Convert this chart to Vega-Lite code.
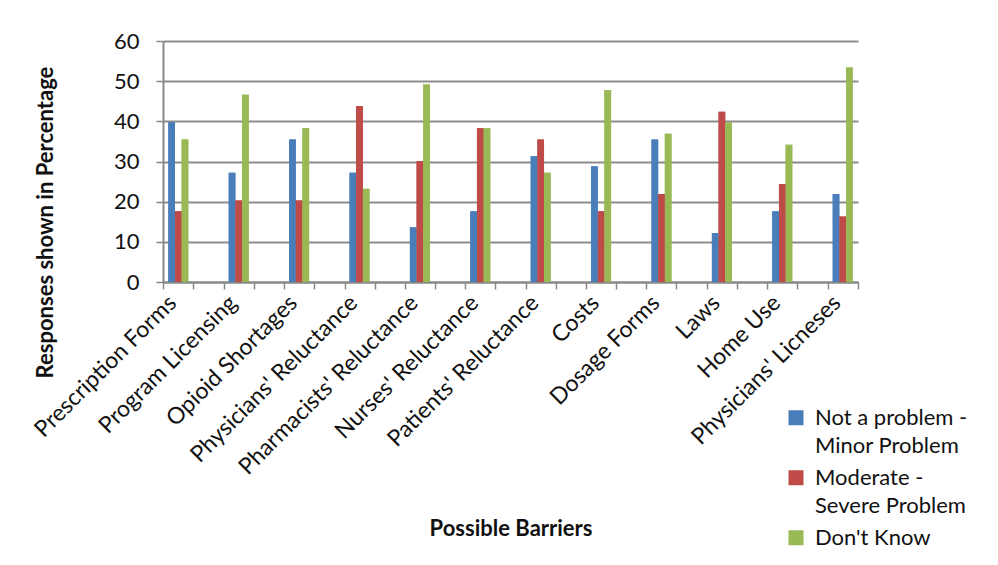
{
  "$schema": "https://vega.github.io/schema/vega-lite/v6.json",
  "autosize": "none",
  "width": 695,
  "height": 241,
  "padding": {"left": 163, "top": 41, "right": 140, "bottom": 283},
  "background": "white",
  "data": {"values": [
    {"barrier": "Prescription Forms", "response": "Not a problem - Minor Problem", "pct": 39.8},
    {"barrier": "Prescription Forms", "response": "Moderate - Severe Problem", "pct": 17.6},
    {"barrier": "Prescription Forms", "response": "Don't Know", "pct": 35.5},
    {"barrier": "Program Licensing", "response": "Not a problem - Minor Problem", "pct": 27.2},
    {"barrier": "Program Licensing", "response": "Moderate - Severe Problem", "pct": 20.3},
    {"barrier": "Program Licensing", "response": "Don't Know", "pct": 46.6},
    {"barrier": "Opioid Shortages", "response": "Not a problem - Minor Problem", "pct": 35.5},
    {"barrier": "Opioid Shortages", "response": "Moderate - Severe Problem", "pct": 20.3},
    {"barrier": "Opioid Shortages", "response": "Don't Know", "pct": 38.3},
    {"barrier": "Physicians' Reluctance", "response": "Not a problem - Minor Problem", "pct": 27.2},
    {"barrier": "Physicians' Reluctance", "response": "Moderate - Severe Problem", "pct": 43.8},
    {"barrier": "Physicians' Reluctance", "response": "Don't Know", "pct": 23.2},
    {"barrier": "Pharmacists' Reluctance", "response": "Not a problem - Minor Problem", "pct": 13.6},
    {"barrier": "Pharmacists' Reluctance", "response": "Moderate - Severe Problem", "pct": 30.1},
    {"barrier": "Pharmacists' Reluctance", "response": "Don't Know", "pct": 49.2},
    {"barrier": "Nurses' Reluctance", "response": "Not a problem - Minor Problem", "pct": 17.6},
    {"barrier": "Nurses' Reluctance", "response": "Moderate - Severe Problem", "pct": 38.3},
    {"barrier": "Nurses' Reluctance", "response": "Don't Know", "pct": 38.3},
    {"barrier": "Patients' Reluctance", "response": "Not a problem - Minor Problem", "pct": 31.3},
    {"barrier": "Patients' Reluctance", "response": "Moderate - Severe Problem", "pct": 35.5},
    {"barrier": "Patients' Reluctance", "response": "Don't Know", "pct": 27.2},
    {"barrier": "Costs", "response": "Not a problem - Minor Problem", "pct": 28.8},
    {"barrier": "Costs", "response": "Moderate - Severe Problem", "pct": 17.6},
    {"barrier": "Costs", "response": "Don't Know", "pct": 47.8},
    {"barrier": "Dosage Forms", "response": "Not a problem - Minor Problem", "pct": 35.5},
    {"barrier": "Dosage Forms", "response": "Moderate - Severe Problem", "pct": 21.9},
    {"barrier": "Dosage Forms", "response": "Don't Know", "pct": 36.9},
    {"barrier": "Laws", "response": "Not a problem - Minor Problem", "pct": 12.2},
    {"barrier": "Laws", "response": "Moderate - Severe Problem", "pct": 42.4},
    {"barrier": "Laws", "response": "Don't Know", "pct": 39.7},
    {"barrier": "Home Use", "response": "Not a problem - Minor Problem", "pct": 17.6},
    {"barrier": "Home Use", "response": "Moderate - Severe Problem", "pct": 24.4},
    {"barrier": "Home Use", "response": "Don't Know", "pct": 34.2},
    {"barrier": "Physicians' Licneses", "response": "Not a problem - Minor Problem", "pct": 21.9},
    {"barrier": "Physicians' Licneses", "response": "Moderate - Severe Problem", "pct": 16.3},
    {"barrier": "Physicians' Licneses", "response": "Don't Know", "pct": 53.4}
  ]},
  "encoding": {
    "x": {"field": "barrier", "type": "nominal", "sort": null,
      "scale": {"paddingInner": 0.669, "paddingOuter": 0.088}},
    "xOffset": {"field": "response", "type": "nominal", "sort": ["Not a problem - Minor Problem", "Moderate - Severe Problem", "Don't Know"], "scale": {"paddingInner": 0}},
    "y": {"field": "pct", "type": "quantitative", "scale": {"domain": [0, 60], "nice": false}},
    "color": {
      "field": "response", "type": "nominal",
      "scale": {"domain": ["Not a problem - Minor Problem", "Moderate - Severe Problem", "Don't Know"], "range": ["#4a7ebb", "#be4b48", "#98b954"]},
      "legend": {
        "title": null, "orient": "none", "legendX": 622, "legendY": 356,
        "labelFont": "Lato", "labelFontSize": 22, "labelColor": "#111",
        "symbolType": "M-1,0.3H1V2.3H-1Z", "symbolSize": 225, "symbolStrokeWidth": 0,
        "labelLimit": 300, "rowPadding": -3,
        "labelBaseline": "top", "labelOffset": 8,
        "labelExpr": "datum.label == 'Not a problem - Minor Problem' ? ['Not a problem -', 'Minor Problem'] : datum.label == 'Moderate - Severe Problem' ? ['Moderate -', 'Severe Problem'] : datum.label"
      }
    }
  },
  "layer": [
    {
      "mark": {"type": "bar"},
      "encoding": {
        "x": {"field": "barrier", "type": "nominal", "sort": null,
          "axis": {
            "orient": "bottom",
            "title": "Possible Barriers", "titleFont": "Lato", "titleFontSize": 22, "titleFontWeight": "bold", "titleColor": "#111",
            "titleY": 246, "titleBaseline": "middle",
            "labelAngle": -45, "labelAlign": "right", "labelBaseline": "middle", "labelFont": "Lato", "labelFontSize": 23, "labelColor": "#111",
            "labelPadding": 10, "labelOffset": 9, "labelLimit": 400,
            "tickOffset": -15, "tickColor": "#888", "tickSize": 7, "tickWidth": 1.5,
            "domainColor": "#888", "domainWidth": 2, "grid": false
          }
        },
        "y": {"field": "pct", "type": "quantitative",
          "axis": {
            "title": "Responses shown in Percentage", "titleFont": "Lato", "titleFontSize": 22, "titleFontWeight": "bold", "titleColor": "#111",
            "titleY": 181, "titleX": -106, "titleAlign": "center", "titleAngle": 270, "titleBaseline": "bottom",
            "values": [0, 10, 20, 30, 40, 50, 60],
            "labelFont": "Lato", "labelFontSize": 22, "labelColor": "#111", "labelPadding": 17,
            "tickColor": "#888", "tickSize": 7, "tickWidth": 1.5,
            "domainColor": "#888", "domainWidth": 2,
            "grid": true, "gridColor": "#8c8c8c", "gridWidth": 2
          }
        }
      }
    },
    {
      "mark": {"type": "bar"},
      "encoding": {
        "x": {"field": "barrier", "type": "nominal", "sort": null,
          "axis": {
            "orient": "bottom", "title": null, "labels": false, "domain": false, "grid": false,
            "tickOffset": 15, "tickColor": "#888", "tickSize": 7, "tickWidth": 1.5
          }
        }
      }
    }
  ],
  "resolve": {"axis": {"x": "independent"}},
  "config": {
    "view": {"stroke": null},
    "style": {"guide-label": {"lineHeight": 28}}
  }
}
